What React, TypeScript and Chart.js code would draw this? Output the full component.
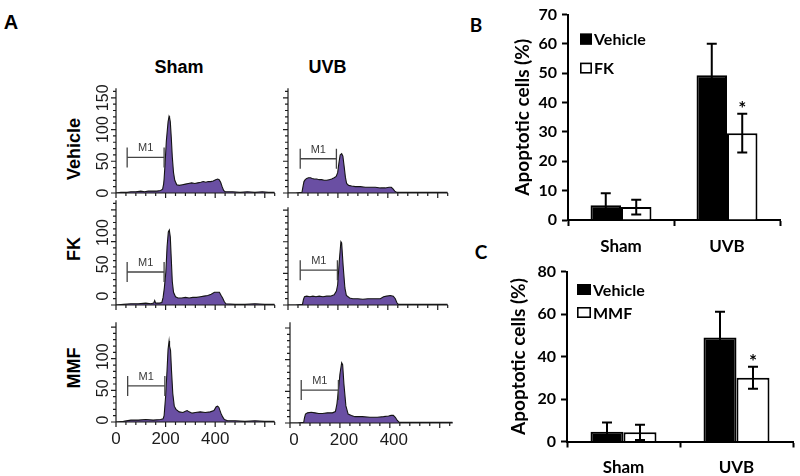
import React, { useEffect, useRef } from "react";
import { Chart, registerables } from "chart.js";

Chart.register(...registerables);

type Pt = [number, number];

// ---------- Panel A: DNA-content histograms (channel, events) ----------
const histShamVehicle: Pt[] = [
  [0, 0], [20, 1], [45, 1], [60, 2], [80, 2], [100, 3], [115, 2], [130, 3], [150, 3], [165, 3], [180, 4],
  [188, 6], [192, 14], [194, 22], [198, 47], [203, 82], [210, 112], [214, 121], [216, 119], [219, 112],
  [223, 87], [227, 57], [232, 32], [237, 20], [245, 13], [255, 12], [268, 13], [280, 14], [292, 15],
  [305, 16], [318, 15], [330, 16], [342, 17], [352, 18], [362, 17], [372, 18], [382, 18], [392, 19],
  [402, 21], [410, 22], [416, 21], [422, 17], [428, 10], [434, 4], [440, 2], [470, 2], [500, 1],
  [530, 2], [560, 1], [590, 2], [615, 1], [640, 1],
];
const histUvbVehicle: Pt[] = [
  [0, 0], [30, 0], [56, 1], [60, 10], [64, 18], [69, 21], [75, 23], [82, 24], [90, 24], [97, 23],
  [105, 22], [115, 22], [125, 21], [135, 21], [145, 20], [155, 20], [165, 21], [175, 22], [185, 24],
  [193, 26], [199, 32], [204, 47], [209, 60], [215, 62], [220, 58], [225, 42], [230, 25], [235, 15],
  [243, 12], [255, 11], [270, 10], [290, 10], [310, 9], [330, 9], [350, 9], [370, 8], [390, 8],
  [405, 9], [414, 9], [420, 7], [428, 3], [436, 1], [480, 1], [520, 1], [560, 1], [600, 1], [640, 1],
];
const histShamFk: Pt[] = [
  [0, 0], [30, 1], [60, 2], [90, 2], [120, 3], [140, 2], [152, 3], [156, 7], [160, 3], [175, 3],
  [185, 4], [190, 12], [195, 27], [201, 52], [206, 92], [211, 115], [215, 118], [219, 107], [223, 72],
  [227, 37], [232, 20], [240, 13], [250, 11], [265, 11], [280, 12], [295, 11], [310, 12], [325, 12],
  [340, 13], [355, 14], [370, 15], [384, 17], [397, 20], [410, 20], [417, 20], [424, 15], [430, 11],
  [437, 5], [443, 2], [480, 1], [520, 1], [560, 2], [600, 1], [640, 1],
];
const histUvbFk: Pt[] = [
  [0, 0], [30, 0], [58, 1], [62, 9], [66, 13], [75, 14], [88, 13], [100, 14], [112, 13], [125, 14],
  [140, 13], [155, 14], [170, 14], [185, 16], [194, 22], [199, 32], [206, 72], [212, 100], [215, 98],
  [221, 62], [228, 27], [234, 15], [247, 11], [260, 10], [280, 10], [300, 9], [320, 10], [345, 10],
  [370, 10], [383, 13], [395, 14], [410, 15], [422, 14], [430, 10], [436, 4], [442, 1], [480, 1],
  [520, 1], [560, 1], [600, 1], [640, 1],
];
const histShamMmf: Pt[] = [
  [0, 0], [30, 1], [60, 3], [90, 3], [120, 4], [150, 3], [180, 4], [190, 5], [194, 10], [200, 40],
  [206, 83], [210, 115], [214, 128], [216, 120], [220, 113], [224, 80], [229, 45], [235, 25], [242, 20],
  [255, 16], [270, 15], [280, 17], [287, 18], [295, 16], [307, 14], [320, 15], [340, 16], [360, 15],
  [380, 16], [395, 18], [404, 24], [410, 25], [415, 23], [423, 14], [430, 8], [437, 4], [450, 2],
  [480, 2], [520, 1], [560, 2], [600, 1], [640, 1],
];
const histUvbMmf: Pt[] = [
  [0, 0], [30, 0], [55, 1], [58, 8], [62, 14], [70, 16], [85, 17], [100, 16], [115, 15], [130, 15],
  [150, 16], [170, 16], [182, 18], [188, 30], [194, 52], [200, 77], [207, 95], [211, 92], [216, 62],
  [224, 27], [233, 14], [246, 12], [260, 10], [290, 10], [320, 9], [350, 9], [375, 10], [395, 11],
  [405, 12], [414, 12], [422, 9], [430, 4], [438, 1], [480, 1], [520, 1], [560, 1], [600, 1], [652, 1],
];

// M1 gates: [start channel, end channel, level]
const m1ShamVehicle = [45, 194, 56];
const m1UvbVehicle = [49, 194, 54];
const m1ShamFk = [45, 194, 52];
const m1UvbFk = [49, 198, 55];
const m1ShamMmf = [47, 197, 57];
const m1UvbMmf = [45, 194, 52];

const histColumns = ["Sham", "UVB"];
const histRows = ["Vehicle", "FK", "MMF"];
const histYTicks = [0, 50, 100, 150];
const histYTicksShort = [0, 50, 100];
const histXTicks = [0, 200, 400];

// ---------- Panels B and C: apoptotic cells (%) ----------
const categories = ["Sham", "UVB"];
const vehicleB = [5.0, 49.3];
const vehicleErrB = [4.1, 10.8];
const fkB = [4.4, 29.6];
const fkErrB = [2.5, 6.6];
const vehicleC = [4.6, 48.9];
const vehicleErrC = [4.4, 12.2];
const mmfC = [4.3, 30.0];
const mmfErrC = [3.6, 5.2];
const noSig = ["", ""];
const sigB = ["", "*"];
const sigC = ["", "*"];

const HIST_FONT = "'Liberation Sans', Arial, sans-serif";
const BAR_FONT = "Lato, 'Open Sans', sans-serif";
const PURPLE = "#6a4fa3";

type HistPanel = {
  data: Pt[];
  m1: number[];
  l: number;
  t: number;
  r: number;
  b: number;
  xMax: number;
  yMax: number;
  yLabels?: number[];
  yShift?: number;
  xLabels?: number[];
  xShift?: number;
};

const histPanels: HistPanel[] = [
  { data: histShamVehicle, m1: m1ShamVehicle, l: 116, t: 83, r: 280, b: 193, xMax: 640, yMax: 165, yLabels: histYTicks, yShift: 0 },
  { data: histUvbVehicle, m1: m1UvbVehicle, l: 288, t: 83, r: 453, b: 193, xMax: 640, yMax: 165 },
  { data: histShamFk, m1: m1ShamFk, l: 116, t: 195, r: 280, b: 305, xMax: 640, yMax: 165, yLabels: histYTicksShort, yShift: -9 },
  { data: histUvbFk, m1: m1UvbFk, l: 288, t: 202, r: 453, b: 305, xMax: 640, yMax: 154.5 },
  { data: histShamMmf, m1: m1ShamMmf, l: 116, t: 317, r: 280, b: 422, xMax: 640, yMax: 157.5, yLabels: histYTicksShort, yShift: -2, xLabels: histXTicks },
  { data: histUvbMmf, m1: m1UvbMmf, l: 290, t: 317, r: 458, b: 423, xMax: 652, yMax: 159, xLabels: histXTicks, xShift: 4 },
];

function makeHistAxes(p: HistPanel) {
  return {
    id: "histAxes",
    afterDraw(chart: any) {
      const { ctx, chartArea: a } = chart;
      const xs = chart.scales.x;
      const ys = chart.scales.y;
      ctx.save();
      ctx.strokeStyle = "#1c1c1c";
      ctx.lineWidth = 1.2;
      ctx.beginPath();
      ctx.moveTo(a.left, a.top);
      ctx.lineTo(a.left, a.bottom);
      ctx.lineTo(a.right, a.bottom);
      for (let v = 0; v <= p.yMax + 1e-6; v += 10) {
        const y = ys.getPixelForValue(v);
        const len = v % 50 === 0 ? 5 : 3;
        ctx.moveTo(a.left, y);
        ctx.lineTo(a.left - len, y);
      }
      for (let v = 0; v <= p.xMax + 1e-6; v += 40) {
        const x = xs.getPixelForValue(v);
        const len = v % 200 === 0 ? 5 : 3;
        ctx.moveTo(x, a.bottom);
        ctx.lineTo(x, a.bottom + len);
      }
      ctx.stroke();

      ctx.fillStyle = "#1c1c1c";
      ctx.textAlign = "center";
      ctx.textBaseline = "middle";
      ctx.font = `16px ${HIST_FONT}`;
      (p.yLabels || []).forEach((v) => {
        ctx.save();
        ctx.translate(a.left - 12, ys.getPixelForValue(v) + (p.yShift || 0));
        ctx.rotate(-Math.PI / 2);
        ctx.fillText(String(v), 0, 0);
        ctx.restore();
      });
      ctx.font = `17px ${HIST_FONT}`;
      (p.xLabels || []).forEach((v) => {
        ctx.fillText(String(v), xs.getPixelForValue(v) + (p.xShift || 0), a.bottom + 17);
      });

      ctx.font = `11px ${HIST_FONT}`;
      ctx.fillStyle = "#3a3a3a";
      ctx.fillText("M1", xs.getPixelForValue((p.m1[0] + p.m1[1]) / 2), ys.getPixelForValue(p.m1[2]) - 9);
      ctx.restore();
    },
  };
}

function Histogram({ p }: { p: HistPanel }) {
  const ref = useRef<HTMLCanvasElement>(null);
  const padL = 40, padT = 6, padR = 6, padB = 30;
  const w = p.r - p.l + padL + padR;
  const h = p.b - p.t + padT + padB;
  useEffect(() => {
    if (!ref.current) return;
    const chart = new Chart(ref.current, {
      type: "line",
      data: {
        datasets: [
          {
            data: [[p.m1[0], p.m1[2]], [p.m1[1], p.m1[2]]] as any,
            borderColor: "#444",
            borderWidth: 1.3,
            pointStyle: "line",
            rotation: 90,
            pointRadius: 10,
            pointBorderColor: "#444",
            pointBorderWidth: 1.3,
            fill: false,
            order: 0,
          } as any,
          {
            data: p.data as any,
            fill: "origin",
            backgroundColor: PURPLE,
            borderColor: "#141414",
            borderWidth: 1.1,
            pointRadius: 0,
            tension: 0,
            order: 1,
          },
        ],
      },
      options: {
        animation: false,
        responsive: false,
        events: [],
        layout: { padding: { left: padL, top: padT, right: padR, bottom: padB } },
        scales: {
          x: { type: "linear", min: 0, max: p.xMax, display: false },
          y: { type: "linear", min: 0, max: p.yMax, display: false },
        },
        plugins: { legend: { display: false }, tooltip: { enabled: false } },
      },
      plugins: [makeHistAxes(p)],
    });
    return () => chart.destroy();
  }, []);
  return (
    <canvas
      ref={ref}
      width={w}
      height={h}
      style={{ position: "absolute", left: p.l - padL, top: p.t - padT, width: w, height: h }}
    />
  );
}

type BarCfg = {
  left: number;
  top: number;
  w: number;
  h: number;
  padTop: number;
  padRight: number;
  yAxisW: number;
  xAxisH: number;
  titlePad: number;
  yMax: number;
  step: number;
  catPct: number;
  drugLabel: string;
  vehicle: number[];
  vehicleErr: number[];
  drug: number[];
  drugErr: number[];
  sig: string[];
  legend: { dx: number; dy: number; gap: number; w: number; h: number };
};

const cfgB: BarCfg = {
  left: 500, top: 0, w: 300, h: 262, padTop: 10, padRight: 20, yAxisW: 68, xAxisH: 42, titlePad: 11,
  yMax: 70, step: 10, catPct: 0.575, drugLabel: "FK",
  vehicle: vehicleB, vehicleErr: vehicleErrB, drug: fkB, drugErr: fkErrB, sig: sigB,
  legend: { dx: 12, dy: 19, gap: 29, w: 12, h: 11 },
};
const cfgC: BarCfg = {
  left: 500, top: 255, w: 300, h: 221, padTop: 16.5, padRight: 7, yAxisW: 67, xAxisH: 34.5, titlePad: 7,
  yMax: 80, step: 20, catPct: 0.584, drugLabel: "MMF",
  vehicle: vehicleC, vehicleErr: vehicleErrC, drug: mmfC, drugErr: mmfErrC, sig: sigC,
  legend: { dx: 10, dy: 12.5, gap: 23, w: 14, h: 11 },
};

function makeErrorBars() {
  return {
    id: "errorBars",
    afterDatasetsDraw(chart: any) {
      const ctx = chart.ctx;
      const ys = chart.scales.y;
      chart.data.datasets.forEach((ds: any, i: number) => {
        const meta = chart.getDatasetMeta(i);
        meta.data.forEach((bar: any, j: number) => {
          const v = ds.data[j];
          const e = ds.errors[j];
          const x = bar.x;
          const yT = ys.getPixelForValue(v + e);
          const yB = ys.getPixelForValue(Math.max(0, v - e));
          ctx.save();
          ctx.strokeStyle = "#000";
          ctx.lineWidth = 2;
          ctx.beginPath();
          ctx.moveTo(x, yB);
          ctx.lineTo(x, yT);
          ctx.moveTo(x - 5, yT);
          ctx.lineTo(x + 5, yT);
          ctx.moveTo(x - 5, yB);
          ctx.lineTo(x + 5, yB);
          ctx.stroke();
          if (ds.marks[j]) {
            ctx.fillStyle = "#000";
            ctx.font = `bold 19px ${BAR_FONT}`;
            ctx.textAlign = "center";
            ctx.textBaseline = "alphabetic";
            ctx.fillText(ds.marks[j], x, yT + 1);
          }
          ctx.restore();
        });
      });
    },
  };
}

function makeBoxLegend(lg: BarCfg["legend"]) {
  return {
    id: "boxLegend",
    afterDraw(chart: any) {
      const ctx = chart.ctx;
      const { left, top } = chart.chartArea;
      chart.data.datasets.forEach((ds: any, i: number) => {
        const bx = left + lg.dx;
        const by = top + lg.dy + i * lg.gap;
        ctx.save();
        ctx.fillStyle = ds.backgroundColor;
        ctx.fillRect(bx, by, lg.w, lg.h);
        ctx.strokeStyle = "#000";
        ctx.lineWidth = 1.6;
        ctx.strokeRect(bx + 0.8, by + 0.8, lg.w - 1.6, lg.h - 1.6);
        ctx.fillStyle = "#000";
        ctx.font = `bold 16px ${BAR_FONT}`;
        ctx.textAlign = "left";
        ctx.textBaseline = "middle";
        ctx.fillText(ds.label, bx + lg.w + 2, by + lg.h / 2 + 1);
        ctx.restore();
      });
    },
  };
}

function BarPanel({ cfg }: { cfg: BarCfg }) {
  const ref = useRef<HTMLCanvasElement>(null);
  useEffect(() => {
    if (!ref.current) return;
    const chart = new Chart(ref.current, {
      type: "bar",
      data: {
        labels: categories,
        datasets: [
          {
            label: "Vehicle",
            data: cfg.vehicle,
            errors: cfg.vehicleErr,
            marks: noSig,
            backgroundColor: "#000",
            borderColor: "#000",
            borderWidth: 2,
          } as any,
          {
            label: cfg.drugLabel,
            data: cfg.drug,
            errors: cfg.drugErr,
            marks: cfg.sig,
            backgroundColor: "#fff",
            borderColor: "#000",
            borderWidth: 2,
          } as any,
        ],
      },
      options: {
        animation: false,
        responsive: false,
        events: [],
        layout: { padding: { left: 0, top: cfg.padTop, right: cfg.padRight, bottom: 0 } },
        datasets: { bar: { barPercentage: 1, categoryPercentage: cfg.catPct } },
        scales: {
          x: {
            grid: { display: true, drawOnChartArea: false, tickLength: 6, tickColor: "#000", tickWidth: 2, offset: true },
            border: { display: true, color: "#000", width: 2 },
            ticks: { color: "#000", font: { family: BAR_FONT, weight: "bold", size: 17 }, padding: 10 },
            afterFit: (s: any) => {
              s.height = cfg.xAxisH;
            },
          },
          y: {
            min: 0,
            max: cfg.yMax,
            ticks: { stepSize: cfg.step, color: "#000", font: { family: BAR_FONT, weight: "bold", size: 16 }, padding: 5 },
            grid: { drawOnChartArea: false, tickLength: 6, tickColor: "#000", tickWidth: 2 },
            border: { display: true, color: "#000", width: 2 },
            title: {
              display: true,
              text: "Apoptotic cells (%)",
              color: "#000",
              font: { family: BAR_FONT, weight: "bold", size: 19 },
              padding: { top: cfg.titlePad, bottom: 0 },
            },
            afterFit: (s: any) => {
              s.width = cfg.yAxisW;
            },
          },
        },
        plugins: { legend: { display: false }, tooltip: { enabled: false } },
      } as any,
      plugins: [makeErrorBars(), makeBoxLegend(cfg.legend)],
    });
    return () => chart.destroy();
  }, []);
  return (
    <canvas
      ref={ref}
      width={cfg.w}
      height={cfg.h}
      style={{ position: "absolute", left: cfg.left, top: cfg.top, width: cfg.w, height: cfg.h }}
    />
  );
}

function Txt({ x, y, text, size, family, rotate }: { x: number; y: number; text: string; size: number; family: string; rotate?: boolean }) {
  return (
    <div
      style={{
        position: "absolute",
        left: x,
        top: y,
        transform: `translate(-50%, -50%)${rotate ? " rotate(-90deg)" : ""}`,
        font: `bold ${size}px ${family}`,
        lineHeight: 1,
        whiteSpace: "nowrap",
        color: "#000",
      }}
    >
      {text}
    </div>
  );
}

export default function App() {
  const colX = [179, 327.5];
  const rowY = [148.5, 249, 368];
  return (
    <div style={{ position: "fixed", left: 0, top: 0, width: 800, height: 476, background: "#fff", overflow: "hidden" }}>
      <Txt x={11} y={22} text="A" size={20} family={HIST_FONT} />
      <Txt x={476} y={24} text="B" size={19} family={BAR_FONT} />
      <Txt x={481} y={251} text="C" size={19} family={BAR_FONT} />
      {histColumns.map((c, i) => (
        <Txt key={c} x={colX[i]} y={67} text={c} size={18} family={HIST_FONT} />
      ))}
      {histRows.map((r, i) => (
        <Txt key={r} x={73.5} y={rowY[i]} text={r} size={18} family={HIST_FONT} rotate />
      ))}
      {histPanels.map((p, i) => (
        <Histogram key={i} p={p} />
      ))}
      <BarPanel cfg={cfgB} />
      <BarPanel cfg={cfgC} />
    </div>
  );
}
